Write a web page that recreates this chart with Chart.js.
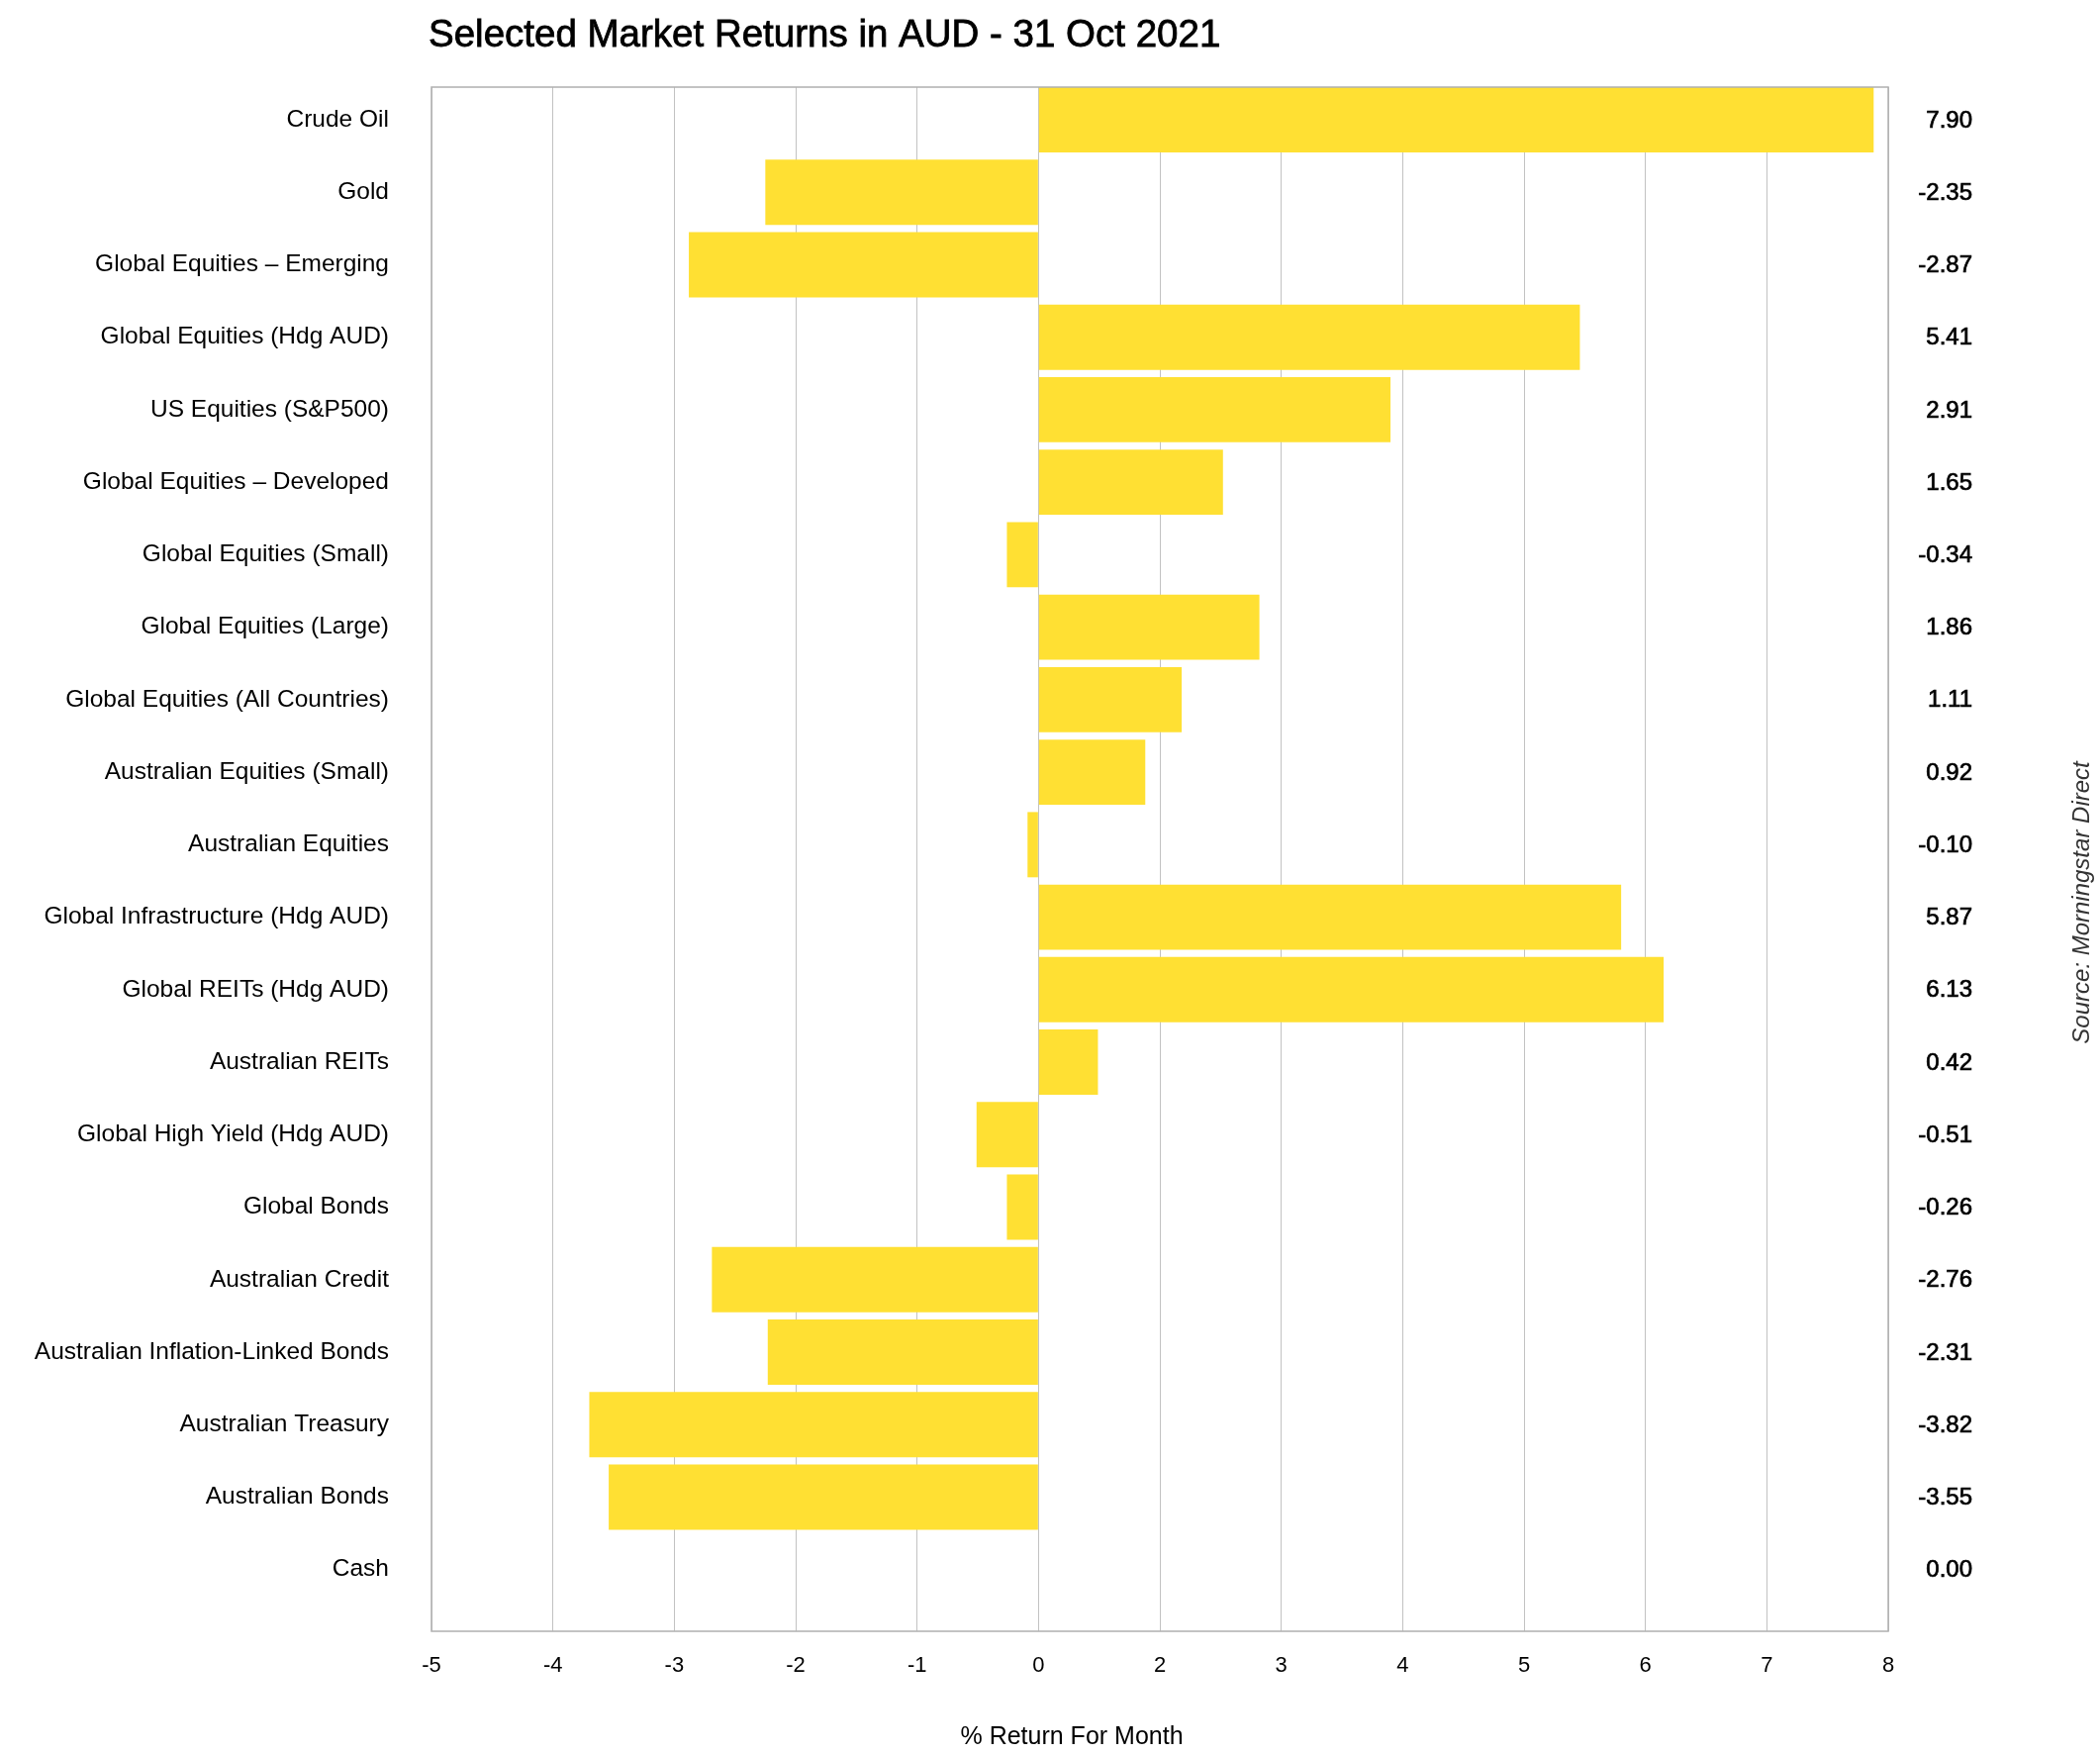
<!DOCTYPE html>
<html>
<head>
<meta charset="utf-8">
<script src="https://cdn.jsdelivr.net/npm/chart.js@4.4.0/dist/chart.umd.min.js"></script>
<style>
  html, body { margin: 0; padding: 0; background: #fff; }
  #wrap { width: 2122px; height: 1772px; }
</style>
</head>
<body>
<div id="wrap"><canvas id="chart1"></canvas></div>
<script>
var categories = ["Crude Oil", "Gold", "Global Equities \u2013 Emerging", "Global Equities (Hdg AUD)", "US Equities (S&P500)",
    "Global Equities \u2013 Developed", "Global Equities (Small)", "Global Equities (Large)", "Global Equities (All Countries)",
    "Australian Equities (Small)", "Australian Equities", "Global Infrastructure (Hdg AUD)", "Global REITs (Hdg AUD)",
    "Australian REITs", "Global High Yield (Hdg AUD)", "Global Bonds", "Australian Credit", "Australian Inflation-Linked Bonds",
    "Australian Treasury", "Australian Bonds", "Cash"];
// bar ends as read against the gridlines
var barValues = [6.88, -2.25, -2.88, 4.46, 2.90, 1.52, -0.26, 1.82, 1.18, 0.88, -0.09, 4.80, 5.15, 0.49, -0.51, -0.26, -2.69, -2.23, -3.70, -3.54, 0];
// numbers printed in the right margin
var printedValues = ["7.90", "-2.35", "-2.87", "5.41", "2.91", "1.65", "-0.34", "1.86", "1.11", "0.92", "-0.10", "5.87", "6.13",
    "0.42", "-0.51", "-0.26", "-2.76", "-2.31", "-3.82", "-3.55", "0.00"];
var xTickLabels = ["-5", "-4", "-3", "-2", "-1", "0", "2", "3", "4", "5", "6", "7", "8"];
var chartTitle = "Selected Market Returns in AUD - 31 Oct 2021";
var xAxisTitle = "% Return For Month";
var sourceNote = "Source: Morningstar Direct";

var FONT = "'Liberation Sans', Arial, Helvetica, sans-serif";

var framePlugin = {
    id: "frame",
    afterDraw: function(chart) {
        var c = chart.ctx, a = chart.chartArea;
        c.save();
        c.strokeStyle = "#b0b0b0";
        c.lineWidth = 1.5;
        c.strokeRect(a.left, a.top, a.right - a.left, a.bottom - a.top);
        c.restore();
    }
};

// regular face with a thin outline, to get a medium weight
function mediumText(c, text, x, y, stroke) {
    c.fillText(text, x, y);
    c.lineWidth = stroke;
    c.strokeStyle = c.fillStyle;
    c.strokeText(text, x, y);
}

var textPlugin = {
    id: "texts",
    afterDraw: function(chart) {
        var c = chart.ctx, yScale = chart.scales.y;
        c.save();
        c.fillStyle = "#000";

        c.font = "38.5px " + FONT;
        c.textAlign = "left";
        c.textBaseline = "alphabetic";
        mediumText(c, chartTitle, 433, 47, 0.8);

        c.font = "24px " + FONT;
        c.textAlign = "right";
        c.textBaseline = "middle";
        for (var i = 0; i < printedValues.length; i++) {
            mediumText(c, printedValues[i], 1993, yScale.getPixelForValue(i) + 1, 0.7);
        }

        c.font = "25px " + FONT;
        c.textAlign = "center";
        c.textBaseline = "alphabetic";
        c.fillText(xAxisTitle, 1083, 1762);

        c.translate(2111, 912);
        c.rotate(-Math.PI / 2);
        c.font = "italic 24px " + FONT;
        c.fillStyle = "#333";
        c.textAlign = "center";
        c.textBaseline = "alphabetic";
        c.fillText(sourceNote, 0, 0);
        c.restore();
    }
};

var ctx = document.getElementById("chart1");
var chartGraph = new Chart(ctx, {
    type: "bar",
    data: {
        datasets: [{
            data: barValues.map(function(v, i) { return { x: v, y: i }; }),
            backgroundColor: "#FFE033",
            borderWidth: 0,
            barPercentage: 0.9,
            categoryPercentage: 1
        }]
    },
    options: {
        indexAxis: "y",
        responsive: true,
        maintainAspectRatio: false,
        animation: false,
        devicePixelRatio: 1,
        layout: { padding: { top: 88, right: 214, left: 0, bottom: 0 } },
        plugins: {
            legend: { display: false },
            tooltip: { enabled: false },
            title: { display: false }
        },
        scales: {
            x: {
                type: "linear",
                position: "bottom",
                min: -5,
                max: 7,
                z: 1,
                ticks: {
                    stepSize: 1,
                    padding: 22,
                    color: "#000",
                    font: { family: FONT, size: 22 },
                    callback: function(v, i) { return xTickLabels[i]; }
                },
                grid: { color: "rgba(0,0,0,0.24)", lineWidth: 1, drawTicks: false },
                border: { display: false },
                afterFit: function(s) { s.height = 124; }
            },
            y: {
                type: "linear",
                reverse: true,
                offset: false,
                min: -0.45,
                max: 20.85,
                afterBuildTicks: function(s) {
                    s.ticks = categories.map(function(c, i) { return { value: i }; });
                },
                ticks: {
                    padding: 43,
                    color: "#000",
                    font: { family: FONT, size: 24.5 },
                    callback: function(v) { return categories[v]; }
                },
                grid: { display: false, drawTicks: false, offset: false },
                border: { display: false },
                afterFit: function(s) { s.width = 436; }
            }
        }
    },
    plugins: [framePlugin, textPlugin]
});
</script>
</body>
</html>
